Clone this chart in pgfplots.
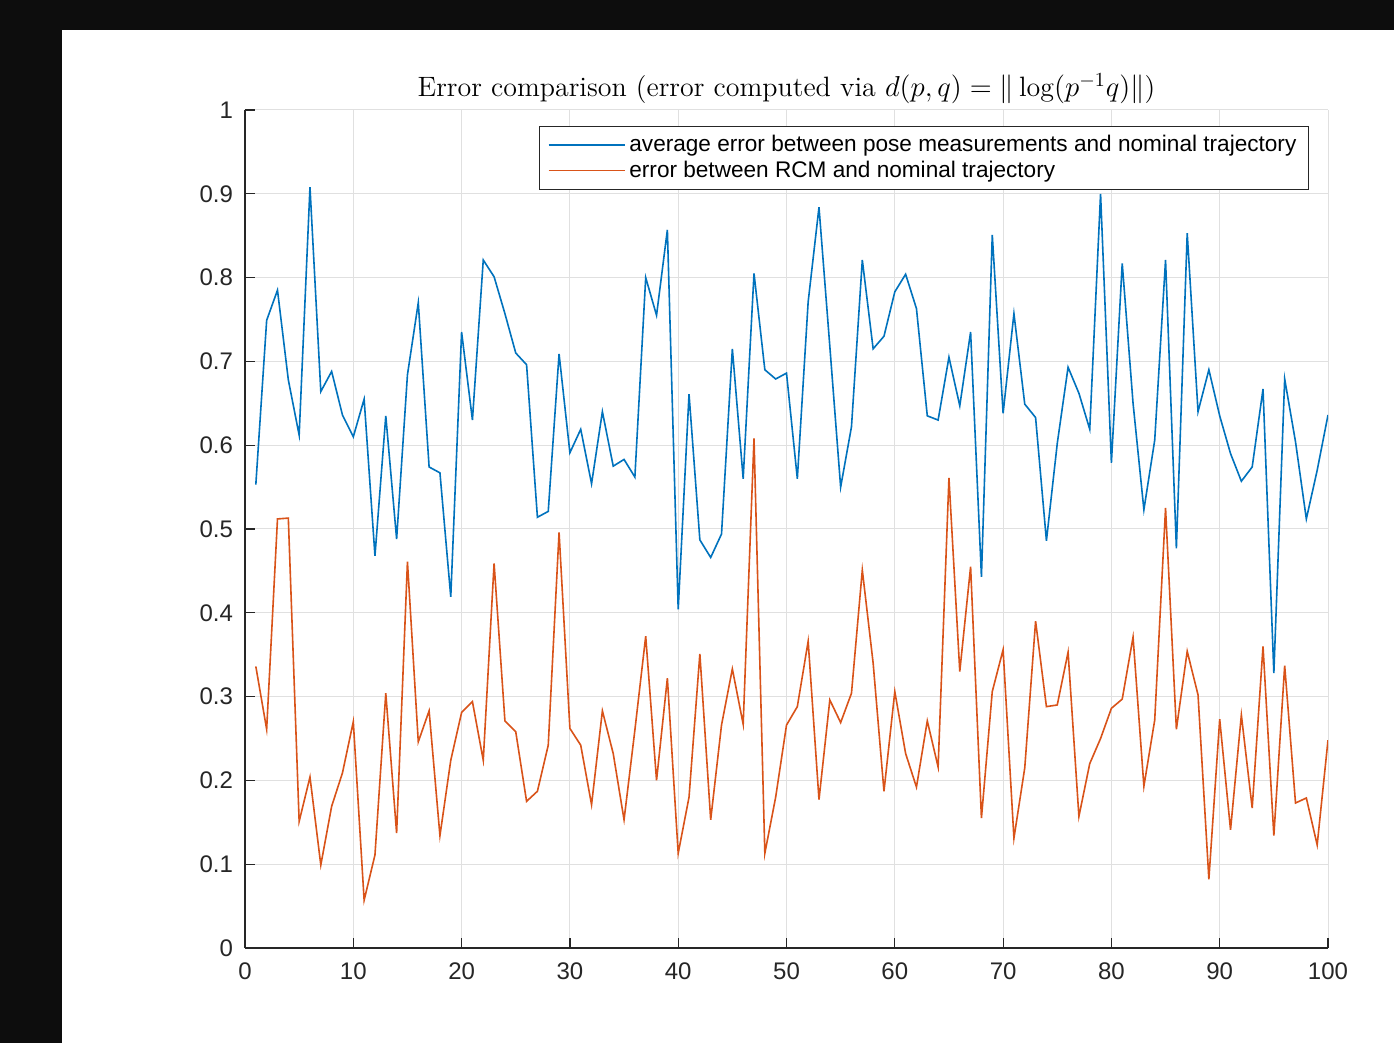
\documentclass[border=0pt]{standalone}
\usepackage{pgfplots}
\pgfplotsset{compat=1.18}
\usepackage{pgfplotstable}
\usepackage{fontspec}
\newfontfamily\arial{Liberation Sans}

\definecolor{mblue}{rgb}{0,0.447,0.741}
\definecolor{morange}{rgb}{0.85,0.325,0.098}
\definecolor{axgray}{rgb}{0.15,0.15,0.15}

% x, average error (blue), RCM error (orange)
\pgfplotstableread{
i  avg    rcm
1  0.553  0.336
2  0.749  0.261
3  0.785  0.512
4  0.678  0.513
5  0.612  0.151
6  0.908  0.204
7  0.664  0.099
8  0.688  0.169
9  0.636  0.209
10 0.610  0.270
11 0.655  0.057
12 0.468  0.111
13 0.635  0.304
14 0.488  0.137
15 0.684  0.461
16 0.770  0.246
17 0.574  0.283
18 0.567  0.134
19 0.419  0.224
20 0.735  0.281
21 0.630  0.294
22 0.821  0.224
23 0.801  0.459
24 0.757  0.271
25 0.710  0.258
26 0.696  0.175
27 0.514  0.187
28 0.521  0.242
29 0.709  0.496
30 0.591  0.262
31 0.619  0.242
32 0.554  0.171
33 0.640  0.283
34 0.575  0.232
35 0.583  0.153
36 0.562  0.260
37 0.800  0.372
38 0.755  0.200
39 0.857  0.322
40 0.404  0.113
41 0.661  0.180
42 0.487  0.351
43 0.466  0.153
44 0.494  0.266
45 0.715  0.333
46 0.560  0.267
47 0.805  0.608
48 0.690  0.113
49 0.679  0.180
50 0.686  0.266
51 0.560  0.288
52 0.771  0.366
53 0.884  0.177
54 0.718  0.296
55 0.550  0.269
56 0.622  0.304
57 0.821  0.451
58 0.715  0.340
59 0.730  0.187
60 0.783  0.306
61 0.804  0.232
62 0.763  0.192
63 0.635  0.271
64 0.630  0.216
65 0.705  0.561
66 0.647  0.330
67 0.735  0.455
68 0.443  0.155
69 0.851  0.306
70 0.638  0.356
71 0.757  0.131
72 0.649  0.215
73 0.633  0.390
74 0.486  0.288
75 0.602  0.290
76 0.693  0.353
77 0.662  0.157
78 0.619  0.220
79 0.900  0.250
80 0.579  0.286
81 0.817  0.297
82 0.650  0.371
83 0.523  0.193
84 0.606  0.272
85 0.821  0.525
86 0.477  0.261
87 0.853  0.354
88 0.640  0.302
89 0.690  0.082
90 0.635  0.273
91 0.590  0.141
92 0.557  0.278
93 0.574  0.167
94 0.667  0.360
95 0.328  0.134
96 0.679  0.337
97 0.604  0.173
98 0.512  0.179
99 0.570  0.123
100 0.636 0.248
}\errdata

\begin{document}
\begin{tikzpicture}
  % screenshot canvas: dark desktop behind a white figure window
  \useasboundingbox (0,0) rectangle (697pt,521.5pt);
  \fill[black!95] (0,0) rectangle (697pt,521.5pt);
  \fill[white] (31pt,0) rectangle (697pt,506.5pt);

  \begin{axis}[
    at={(122.5pt,47.5pt)}, anchor=south west,
    scale only axis,
    width=541.5pt, height=419pt,
    xmin=0, xmax=100, ymin=0, ymax=1,
    xtick={0,10,...,100},
    ytick={0,0.1,0.2,0.3,0.4,0.5,0.6,0.7,0.8,0.9,1},
    yticklabels={0,0.1,0.2,0.3,0.4,0.5,0.6,0.7,0.8,0.9,1},
    axis lines=left,
    axis line style={-, axgray, line width=0.6pt},
    tick align=inside,
    major tick length=5pt,
    tick style={axgray, line width=0.6pt},
    grid=major,
    major grid style={black!12, line width=0.5pt},
    tick label style={font=\arial\fontsize{12}{14}\selectfont, text=axgray},
    xticklabel style={yshift=-4pt},
    yticklabel style={xshift=-2.5pt},
    /pgf/number format/assume math mode=true,
    title={Error comparison (error computed via $d(p,q) = \|\log(p^{-1}q)\|$)},
    title style={font=\fontsize{14}{16}\selectfont, yshift=-6.5pt},
    legend style={
      at={(0.9825,0.981)}, anchor=north east,
      font=\arial\fontsize{11.3}{13}\selectfont,
      draw=axgray, line width=0.6pt,
      row sep=-1pt, inner xsep=4pt, inner ysep=2.5pt,
      cells={anchor=west}
    },
    legend image code/.code={\draw[#1] (0pt,0pt) -- (38pt,0pt);},
  ]
    \addplot[mblue, line width=0.8pt] table[x=i, y=avg] {\errdata};
    \addlegendentry{average error between pose measurements and nominal trajectory}
    \addplot[morange, line width=0.8pt] table[x=i, y=rcm] {\errdata};
    \addlegendentry{error between RCM and nominal trajectory}
  \end{axis}
\end{tikzpicture}
\end{document}
